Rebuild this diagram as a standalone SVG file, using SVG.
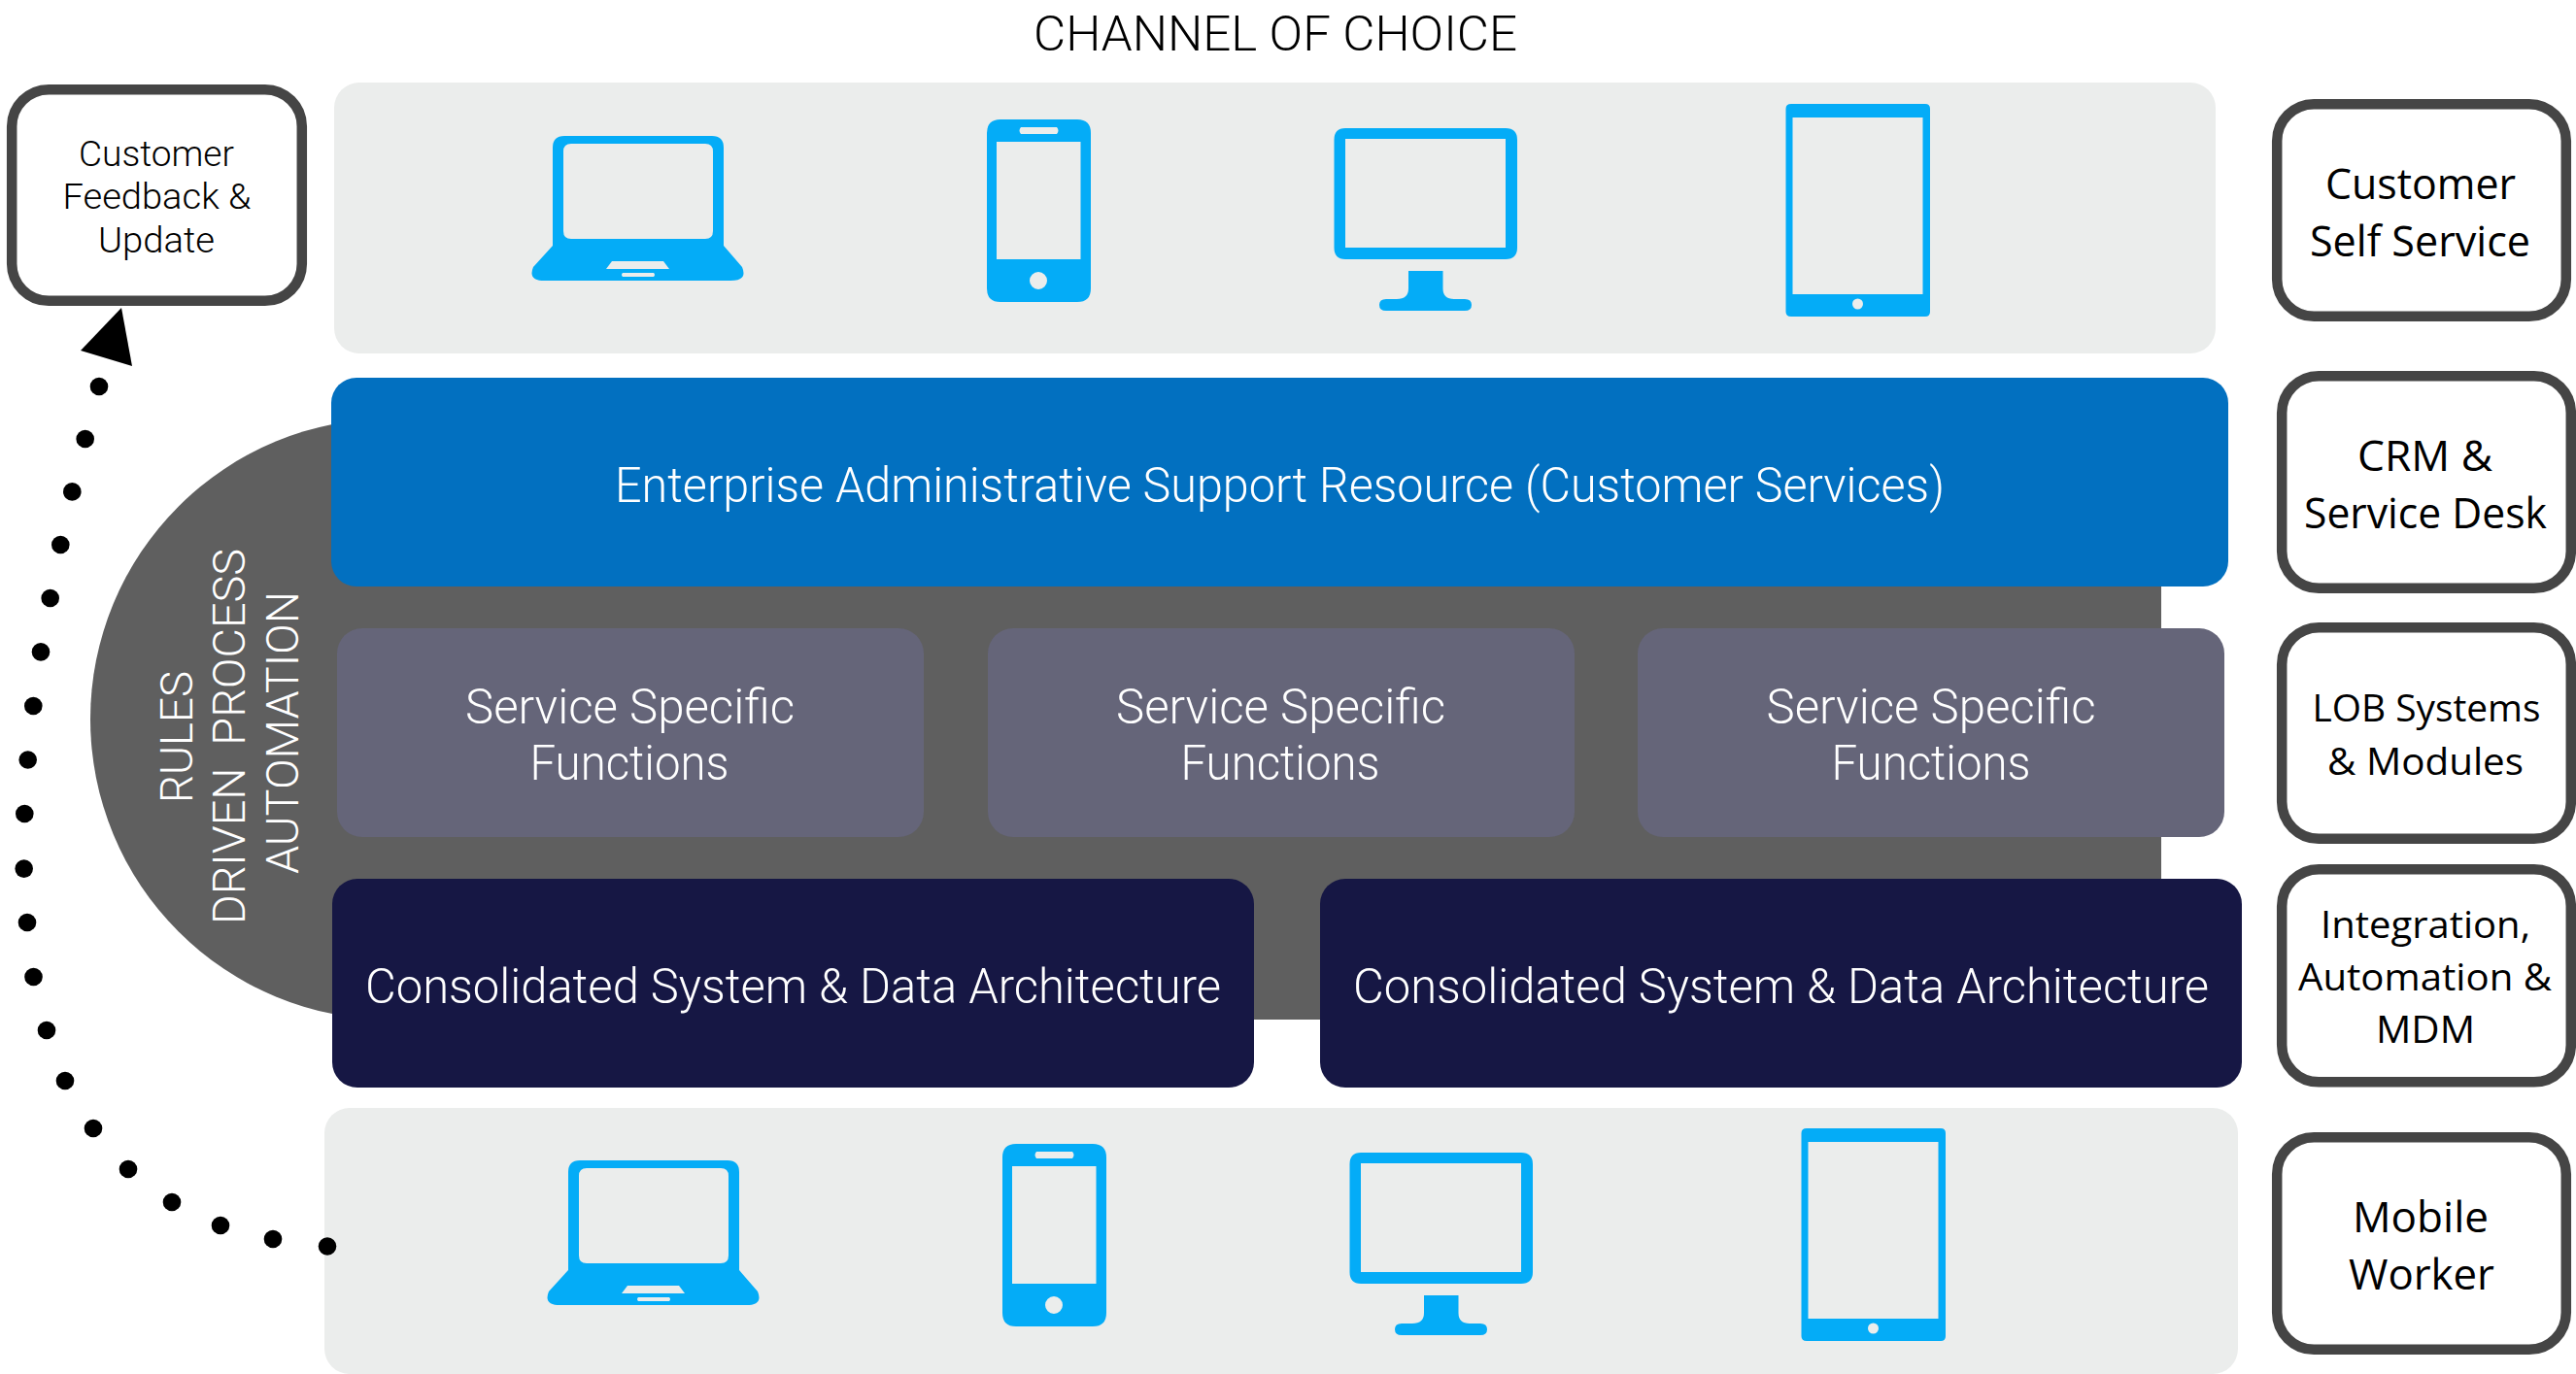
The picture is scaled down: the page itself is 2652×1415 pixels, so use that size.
<svg xmlns="http://www.w3.org/2000/svg" width="2652" height="1415" viewBox="0 0 2652 1415">
<style>
.thin{font-family:"Roboto","Liberation Sans",sans-serif;font-weight:300;}
.cal{font-family:"Open Sans","Liberation Sans",sans-serif;font-weight:400;fill:#000;}
.w{fill:#fff;}
.k{fill:#000;}
.panel{fill:#ebedec;}
.svc{fill:#656579;}
.navy{fill:#161744;}
.box{fill:#fff;stroke:#454545;stroke-width:10.5;}
.icon{fill:#04acf7;fill-rule:evenodd;}
.dot{fill:#000;}
</style>
<defs>
<g id="devices">
<path class="icon" d="M581 140H733Q745 140 745 152V253L764 275Q770 289 752 289H561Q543 289 549 275L569 253V152Q569 140 581 140ZM588 148Q580 148 580 156V238Q580 246 588 246H726Q734 246 734 238V156Q734 148 726 148ZM630 269L624 277H689L683 269ZM641 281Q639 283 641 285H673Q675 283 673 281Z"/>
<path class="icon" d="M1030 123H1109Q1123 123 1123 137V297Q1123 311 1109 311H1030Q1016 311 1016 297V137Q1016 123 1030 123ZM1051 131Q1048 134.500 1051 138H1088Q1091 134.500 1088 131ZM1026 146V267H1112.500V146ZM1069 280A9 9 0 1 0 1069 298A9 9 0 1 0 1069 280Z"/>
<path class="icon" d="M1385 132H1550Q1562 132 1562 144V255Q1562 267 1550 267H1385Q1373.500 267 1373.500 255V144Q1373.500 132 1385 132ZM1385 143V255H1550V143ZM1450 279H1485.500V297Q1485.500 308 1497 308H1508Q1515 308 1515 314Q1515 320 1508 320H1427Q1420 320 1420 314Q1420 308 1427 308H1438Q1450 308 1450 297Z"/>
<path class="icon" d="M1844 107H1982Q1987 107 1987 112V321Q1987 326 1982 326H1844Q1838.500 326 1838.500 321V112Q1838.500 107 1844 107ZM1845.500 121V303H1979.500V121ZM1912.500 307.500A5.500 5.500 0 1 0 1912.500 318.500A5.500 5.500 0 1 0 1912.500 307.500Z"/>
</g>
</defs>
<text class="thin k" x="1064" y="52" font-size="50" textLength="498" lengthAdjust="spacingAndGlyphs">CHANNEL OF CHOICE</text>

<g id="core-backdrop">
<rect x="93" y="431" width="2132" height="619" rx="309.500" fill="#5f5f5f"/>
<path d="M1900 431H2225V1050H1900Z" fill="#5f5f5f"/>
</g>

<g id="channel-panel-top">
<rect class="panel" x="344" y="85" width="1937" height="279" rx="26"/>
<use href="#devices"/>
</g>

<g id="channel-panel-bottom">
<rect class="panel" x="334" y="1141" width="1970" height="274" rx="26"/>
<use href="#devices" transform="translate(16 1055)"/>
</g>

<g id="enterprise-support">
<rect x="341" y="389" width="1953" height="215" rx="26" fill="#0270c0"/>
<text class="thin w" x="633" y="516.500" font-size="50" textLength="1369" lengthAdjust="spacingAndGlyphs">Enterprise Administrative Support Resource (Customer Services)</text>
</g>

<g id="service-1">
<rect class="svc" x="347" y="647" width="604" height="215" rx="26"/>
<text class="thin w" x="479" y="744.500" font-size="50" textLength="339" lengthAdjust="spacingAndGlyphs">Service Specific</text>
<text class="thin w" x="545.500" y="803" font-size="50" textLength="205" lengthAdjust="spacingAndGlyphs">Functions</text>
</g>
<g id="service-2">
<rect class="svc" x="1017" y="647" width="604" height="215" rx="26"/>
<text class="thin w" x="1149" y="744.500" font-size="50" textLength="339" lengthAdjust="spacingAndGlyphs">Service Specific</text>
<text class="thin w" x="1215.500" y="803" font-size="50" textLength="205" lengthAdjust="spacingAndGlyphs">Functions</text>
</g>
<g id="service-3">
<rect class="svc" x="1686" y="647" width="604" height="215" rx="26"/>
<text class="thin w" x="1818.500" y="744.500" font-size="50" textLength="339" lengthAdjust="spacingAndGlyphs">Service Specific</text>
<text class="thin w" x="1885.500" y="803" font-size="50" textLength="205" lengthAdjust="spacingAndGlyphs">Functions</text>
</g>

<g id="architecture-1">
<rect class="navy" x="342" y="905" width="949" height="215" rx="26"/>
<text class="thin w" x="376" y="1033" font-size="50" textLength="881" lengthAdjust="spacingAndGlyphs">Consolidated System &amp; Data Architecture</text>
</g>
<g id="architecture-2">
<rect class="navy" x="1359" y="905" width="949" height="215" rx="26"/>
<text class="thin w" x="1393" y="1033" font-size="50" textLength="881" lengthAdjust="spacingAndGlyphs">Consolidated System &amp; Data Architecture</text>
</g>

<g id="rules-label">
<text class="thin w" transform="translate(198 827) rotate(-90)" font-size="46" textLength="136" lengthAdjust="spacingAndGlyphs">RULES</text>
<text class="thin w" transform="translate(252 952) rotate(-90)" font-size="46" textLength="387" lengthAdjust="spacingAndGlyphs" xml:space="preserve">DRIVEN  PROCESS</text>
<text class="thin w" transform="translate(307 900) rotate(-90)" font-size="46" textLength="291" lengthAdjust="spacingAndGlyphs">AUTOMATION</text>
</g>

<g id="customer-feedback">
<rect class="box" x="12.200" y="92.200" width="298.600" height="217.600" rx="38"/>
<text class="thin k" x="81" y="171" font-size="37" textLength="160" lengthAdjust="spacingAndGlyphs">Customer</text>
<text class="thin k" x="64.500" y="215" font-size="37" textLength="194" lengthAdjust="spacingAndGlyphs">Feedback &amp;</text>
<text class="thin k" x="101" y="260" font-size="37" textLength="120" lengthAdjust="spacingAndGlyphs">Update</text>
</g>

<g id="customer-self-service">
<rect class="box" x="2344.200" y="107.200" width="297.600" height="218.600" rx="38"/>
<text class="cal" x="2394" y="204.500" font-size="43" textLength="196" lengthAdjust="spacingAndGlyphs">Customer</text>
<text class="cal" x="2378" y="263.500" font-size="43" textLength="227" lengthAdjust="spacingAndGlyphs">Self Service</text>
</g>
<g id="crm-service-desk">
<rect class="box" x="2349.200" y="387.200" width="297.600" height="218.600" rx="38"/>
<text class="cal" x="2427" y="484.500" font-size="43" textLength="139" lengthAdjust="spacingAndGlyphs">CRM &amp;</text>
<text class="cal" x="2372" y="543.500" font-size="43" textLength="250" lengthAdjust="spacingAndGlyphs">Service Desk</text>
</g>
<g id="lob-systems">
<rect class="box" x="2349.200" y="646.200" width="297.600" height="217.600" rx="38"/>
<text class="cal" x="2380.500" y="743" font-size="39" textLength="235" lengthAdjust="spacingAndGlyphs">LOB Systems</text>
<text class="cal" x="2396" y="797.500" font-size="39" textLength="202" lengthAdjust="spacingAndGlyphs">&amp; Modules</text>
</g>
<g id="integration-automation">
<rect class="box" x="2349.200" y="895.200" width="297.600" height="219.100" rx="38"/>
<text class="cal" x="2389" y="966" font-size="39" textLength="216" lengthAdjust="spacingAndGlyphs">Integration,</text>
<text class="cal" x="2366" y="1020" font-size="39" textLength="261" lengthAdjust="spacingAndGlyphs">Automation &amp;</text>
<text class="cal" x="2446" y="1074" font-size="39" textLength="102" lengthAdjust="spacingAndGlyphs">MDM</text>
</g>
<g id="mobile-worker">
<rect class="box" x="2344.200" y="1171.200" width="297.600" height="218.600" rx="38"/>
<text class="cal" x="2422" y="1268.500" font-size="43" textLength="140" lengthAdjust="spacingAndGlyphs">Mobile</text>
<text class="cal" x="2418" y="1327.500" font-size="43" textLength="150" lengthAdjust="spacingAndGlyphs">Worker</text>
</g>

<g id="connectors">
<circle class="dot" cx="337" cy="1283.500" r="9.300"/>
<circle class="dot" cx="281" cy="1276" r="9.300"/>
<circle class="dot" cx="227" cy="1262" r="9.300"/>
<circle class="dot" cx="177" cy="1238" r="9.300"/>
<circle class="dot" cx="132" cy="1204" r="9.300"/>
<circle class="dot" cx="96" cy="1162" r="9.300"/>
<circle class="dot" cx="67" cy="1113" r="9.300"/>
<circle class="dot" cx="48" cy="1061" r="9.300"/>
<circle class="dot" cx="34.500" cy="1006" r="9.300"/>
<circle class="dot" cx="28" cy="950" r="9.300"/>
<circle class="dot" cx="24.700" cy="894.600" r="9.300"/>
<circle class="dot" cx="25.300" cy="838" r="9.300"/>
<circle class="dot" cx="28.700" cy="782.500" r="9.300"/>
<circle class="dot" cx="34.300" cy="727" r="9.300"/>
<circle class="dot" cx="42" cy="671.400" r="9.300"/>
<circle class="dot" cx="51.700" cy="616" r="9.300"/>
<circle class="dot" cx="62.300" cy="561" r="9.300"/>
<circle class="dot" cx="74.300" cy="506.400" r="9.300"/>
<circle class="dot" cx="87.700" cy="452" r="9.300"/>
<circle class="dot" cx="102" cy="398" r="9.300"/>
<polygon points="125,317 83,361 136,377" fill="#000"/>
</g>
</svg>
